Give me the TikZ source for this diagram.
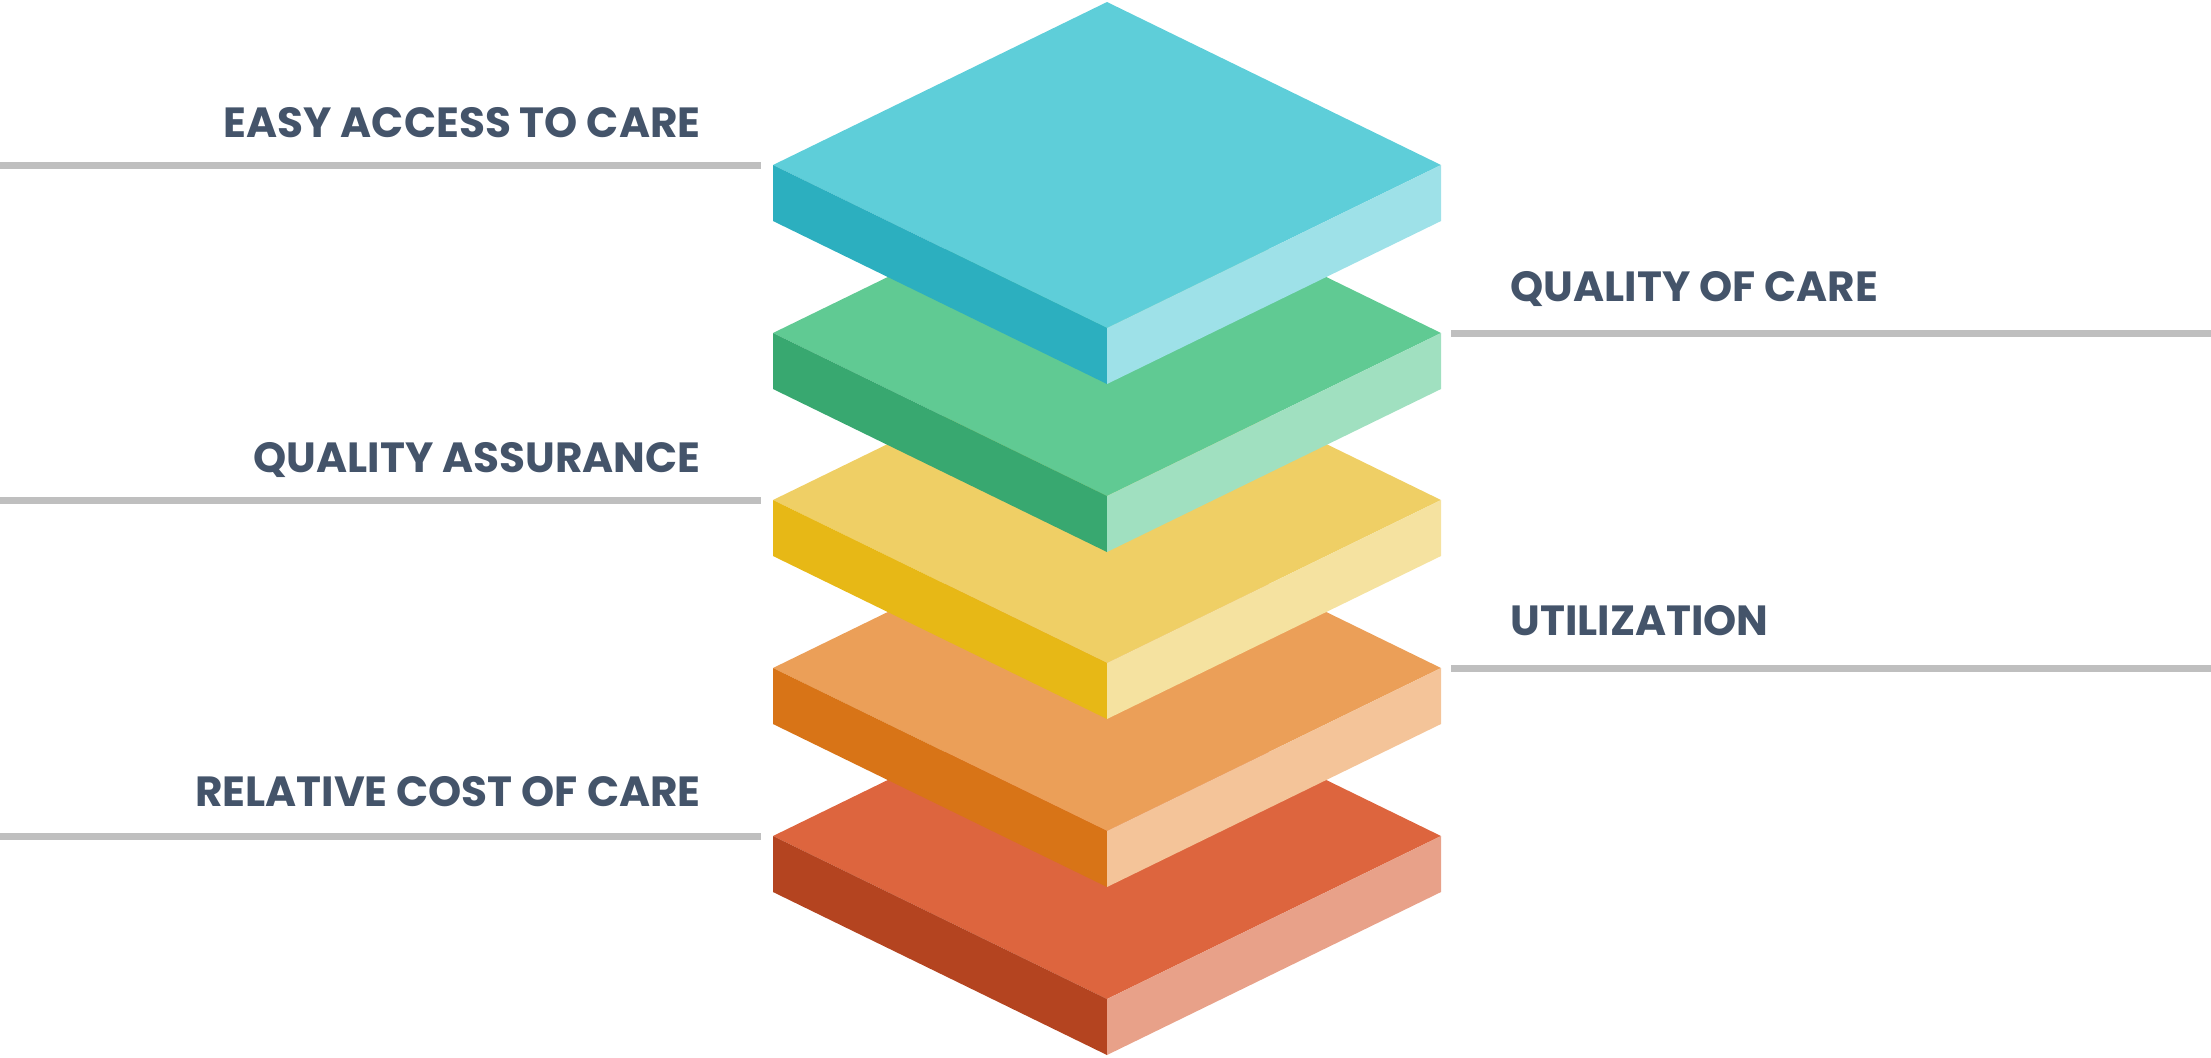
\documentclass[tikz,border=0pt]{standalone}
\usepackage{fontspec}
\newfontfamily\poppins{Poppins}
\definecolor{labeltext}{HTML}{44546A}
\definecolor{rulegray}{HTML}{BFBFBF}
\definecolor{tealtop}{HTML}{5ECED9}
\definecolor{tealleft}{HTML}{2CAFBF}
\definecolor{tealright}{HTML}{9EE1E8}
\definecolor{greentop}{HTML}{60CA93}
\definecolor{greenleft}{HTML}{38A870}
\definecolor{greenright}{HTML}{A0E0C0}
\definecolor{yellowtop}{HTML}{EFCF65}
\definecolor{yellowleft}{HTML}{E7B816}
\definecolor{yellowright}{HTML}{F5E2A0}
\definecolor{orangetop}{HTML}{EB9F58}
\definecolor{orangeleft}{HTML}{D87417}
\definecolor{orangeright}{HTML}{F4C499}
\definecolor{redtop}{HTML}{DD653E}
\definecolor{redleft}{HTML}{B44420}
\definecolor{redright}{HTML}{E8A189}
\tikzstyle{label}=[inner sep=0pt, text=labeltext, font=\poppins\bfseries\fontsize{21.1}{24}\selectfont]
\tikzstyle{rule}=[rulegray, line width=3.5pt]

\begin{document}
\begin{tikzpicture}[x=.5pt,y=-.5pt]
    \useasboundingbox (0,0) rectangle (2211,1057);

    % Rules
    \draw[rule] (0,165) -- (761,165);
    \draw[rule] (0,500) -- (761,500);
    \draw[rule] (0,836) -- (761,836);
    \draw[rule] (1451,333) -- (2211,333);
    \draw[rule] (1451,668) -- (2211,668);

    % Labels
    \node[label,anchor=base east] (access) at (701,137) {EASY ACCESS TO CARE};
    \node[label,anchor=base east] (assurance) at (701,472) {QUALITY ASSURANCE};
    \node[label,anchor=base east] (cost) at (701,806) {RELATIVE COST OF CARE};
    \node[label,anchor=base west] (quality) at (1510,301) {QUALITY OF CARE};
    \node[label,anchor=base west] (utilization) at (1510,635) {UTILIZATION};

    % Layers, bottom first
    \fill[redtop] (773,836) -- ++(334,-163) -- ++(334,163) -- ++(-334,163) -- cycle;
    \fill[redleft] (773,836) -- ++(334,163) -- ++(0,56) -- ++(-334,-163) -- cycle;
    \fill[redright] (1441,836) -- ++(-334,163) -- ++(0,56) -- ++(334,-163) -- cycle;

    \fill[orangetop] (773,668) -- ++(334,-163) -- ++(334,163) -- ++(-334,163) -- cycle;
    \fill[orangeleft] (773,668) -- ++(334,163) -- ++(0,56) -- ++(-334,-163) -- cycle;
    \fill[orangeright] (1441,668) -- ++(-334,163) -- ++(0,56) -- ++(334,-163) -- cycle;

    \fill[yellowtop] (773,500) -- ++(334,-163) -- ++(334,163) -- ++(-334,163) -- cycle;
    \fill[yellowleft] (773,500) -- ++(334,163) -- ++(0,56) -- ++(-334,-163) -- cycle;
    \fill[yellowright] (1441,500) -- ++(-334,163) -- ++(0,56) -- ++(334,-163) -- cycle;

    \fill[greentop] (773,333) -- ++(334,-163) -- ++(334,163) -- ++(-334,163) -- cycle;
    \fill[greenleft] (773,333) -- ++(334,163) -- ++(0,56) -- ++(-334,-163) -- cycle;
    \fill[greenright] (1441,333) -- ++(-334,163) -- ++(0,56) -- ++(334,-163) -- cycle;

    \fill[tealtop] (773,165) -- ++(334,-163) -- ++(334,163) -- ++(-334,163) -- cycle;
    \fill[tealleft] (773,165) -- ++(334,163) -- ++(0,56) -- ++(-334,-163) -- cycle;
    \fill[tealright] (1441,165) -- ++(-334,163) -- ++(0,56) -- ++(334,-163) -- cycle;

\end{tikzpicture}
\end{document}
